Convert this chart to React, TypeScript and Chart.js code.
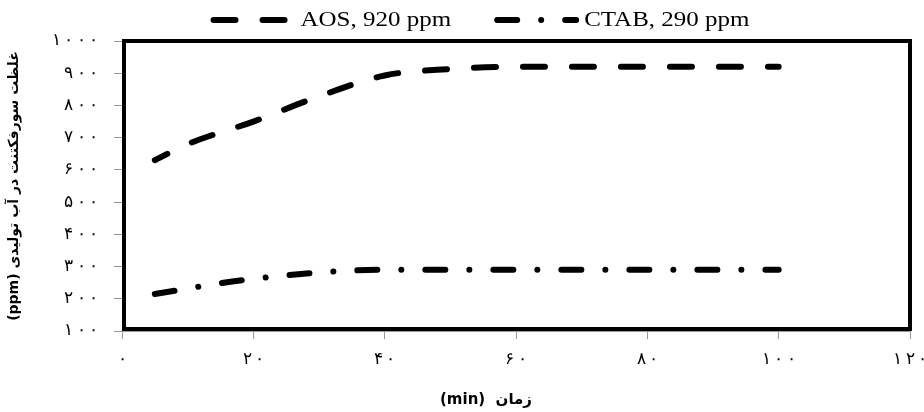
import React, { useEffect, useRef } from "react";
import { Chart, registerables } from "chart.js";

Chart.register(...registerables);

const seriesNames = ["AOS, 920 ppm", "CTAB, 290 ppm"];
const aosX = [5, 10, 20, 30, 40, 50, 60, 80, 100];
const aosY = [630, 680, 750, 828, 893, 913, 920, 920, 920];
const ctabX = [5, 20, 40, 60, 80, 100];
const ctabY = [215, 262, 290, 290, 290, 290];
const xTicks = [0, 20, 40, 60, 80, 100, 120];
const yTicks = [100, 200, 300, 400, 500, 600, 700, 800, 900, 1000];
const xTitle = "\u202Bزمان  (min)\u202C";
const yTitle = "\u202Bغلظت سورفکتنت در آب تولیدی (ppm)\u202C";

const faDigits = "۰۱۲۳۴۵۶۷۸۹";
const toFa = (n: number) =>
  String(n)
    .split("")
    .map((d) => faDigits[+d])
    .join("\u2009");

const SERIF = "'Liberation Serif', 'DejaVu Serif', serif";
const ARABIC = "'DejaVu Sans', sans-serif";

const frameAndLegend = {
  id: "frameAndLegend",
  afterDatasetsDraw(chart: any) {
    const { ctx, chartArea, scales } = chart;
    const left = scales.x.getPixelForValue(scales.x.min);
    const right = scales.x.getPixelForValue(scales.x.max);
    const top = scales.y.getPixelForValue(scales.y.max);
    const bottom = scales.y.getPixelForValue(scales.y.min);
    ctx.save();
    ctx.strokeStyle = "#000";
    ctx.lineWidth = 4;
    ctx.setLineDash([]);
    ctx.strokeRect(left + 2, top, right - left - 2, bottom - top - 2);
    ctx.restore();
  },
  afterDraw(chart: any) {
    const { ctx } = chart;
    const sx = 1.19;
    ctx.save();
    ctx.font = `21px ${SERIF}`;
    ctx.fillStyle = "#000";
    ctx.textBaseline = "middle";
    const ds = chart.data.datasets;
    const lineLen = [78, 85];
    const gapAfterLine = [12, 5];
    const itemGap = 43;
    const tw = ds.map((d: any) => ctx.measureText(d.label).width * sx);
    const total = lineLen[0] + gapAfterLine[0] + tw[0] + itemGap + lineLen[1] + gapAfterLine[1] + tw[1];
    let x = 480 - total / 2;
    const y = 20;
    ds.forEach((d: any, i: number) => {
      ctx.save();
      ctx.strokeStyle = "#000";
      ctx.lineWidth = d.borderWidth;
      ctx.lineCap = "round";
      ctx.setLineDash(d.borderDash);
      ctx.beginPath();
      ctx.moveTo(x + 3, y);
      ctx.lineTo(x + lineLen[i] - 3, y);
      ctx.stroke();
      ctx.restore();
      x += lineLen[i] + gapAfterLine[i];
      ctx.save();
      ctx.translate(x, y);
      ctx.scale(sx, 1);
      ctx.fillText(d.label, 0, 0);
      ctx.restore();
      x += tw[i] + itemGap;
    });
    // x axis title
    ctx.font = `bold 15px ${ARABIC}`;
    ctx.textAlign = "center";
    ctx.textBaseline = "middle";
    ctx.fillText(xTitle, 486, 400);
    ctx.restore();
  },
};

export default function App() {
  const ref = useRef<HTMLCanvasElement>(null);
  useEffect(() => {
    document.body.style.margin = "0";
    const chart = new Chart(ref.current!, {
      type: "line",
      data: {
        datasets: [
          {
            label: seriesNames[0],
            data: aosX.map((x, i) => ({ x, y: aosY[i] })),
            borderColor: "#000",
            borderWidth: 6,
            borderDash: [22, 27],
            borderDashOffset: 8,
            borderCapStyle: "round",
            pointRadius: 0,
            cubicInterpolationMode: "monotone",
            fill: false,
          },
          {
            label: seriesNames[1],
            data: ctabX.map((x, i) => ({ x, y: ctabY[i] })),
            borderColor: "#000",
            borderWidth: 6,
            borderDash: [20, 24, 0.01, 24],
            borderCapStyle: "round",
            pointRadius: 0,
            cubicInterpolationMode: "monotone",
            fill: false,
          },
        ],
      },
      options: {
        responsive: false,
        animation: false,
        layout: { padding: { top: 41, right: 0, left: 0, bottom: 0 } },
        plugins: { legend: { display: false }, tooltip: { enabled: false } },
        scales: {
          x: {
            type: "linear",
            min: 0,
            max: 120,
            afterBuildTicks: (s: any) => {
              s.ticks = xTicks.map((v) => ({ value: v }));
            },
            afterFit: (s: any) => {
              s.height = 81;
              s.paddingRight = 14;
              s.paddingLeft = 0;
            },
            ticks: {
              callback: (v: any) => toFa(Number(v)),
              color: "#000",
              font: { family: SERIF, size: 17 },
              padding: 10,
              maxRotation: 0,
            },
            grid: { drawOnChartArea: false, drawTicks: true, tickLength: 8, color: "#999" },
            border: { color: "#999", width: 1 },
            title: { display: false },
          },
          y: {
            type: "linear",
            min: 100,
            max: 1000,
            afterBuildTicks: (s: any) => {
              s.ticks = yTicks.map((v) => ({ value: v }));
            },
            afterFit: (s: any) => {
              s.width = 122;
            },
            ticks: {
              callback: (v: any) => toFa(Number(v)),
              color: "#000",
              font: { family: SERIF, size: 17 },
              padding: 16,
            },
            grid: { drawOnChartArea: false, drawTicks: true, tickLength: 8, color: "#999" },
            border: { color: "#999", width: 1 },
            title: {
              display: true,
              text: yTitle,
              color: "#000",
              font: { family: ARABIC, size: 14, weight: "bold" },
              padding: { top: 6, bottom: 0 },
            },
          },
        },
      },
      plugins: [frameAndLegend],
    } as any);
    return () => chart.destroy();
  }, []);
  return <canvas ref={ref} width={924} height={412} style={{ display: "block" }} />;
}
